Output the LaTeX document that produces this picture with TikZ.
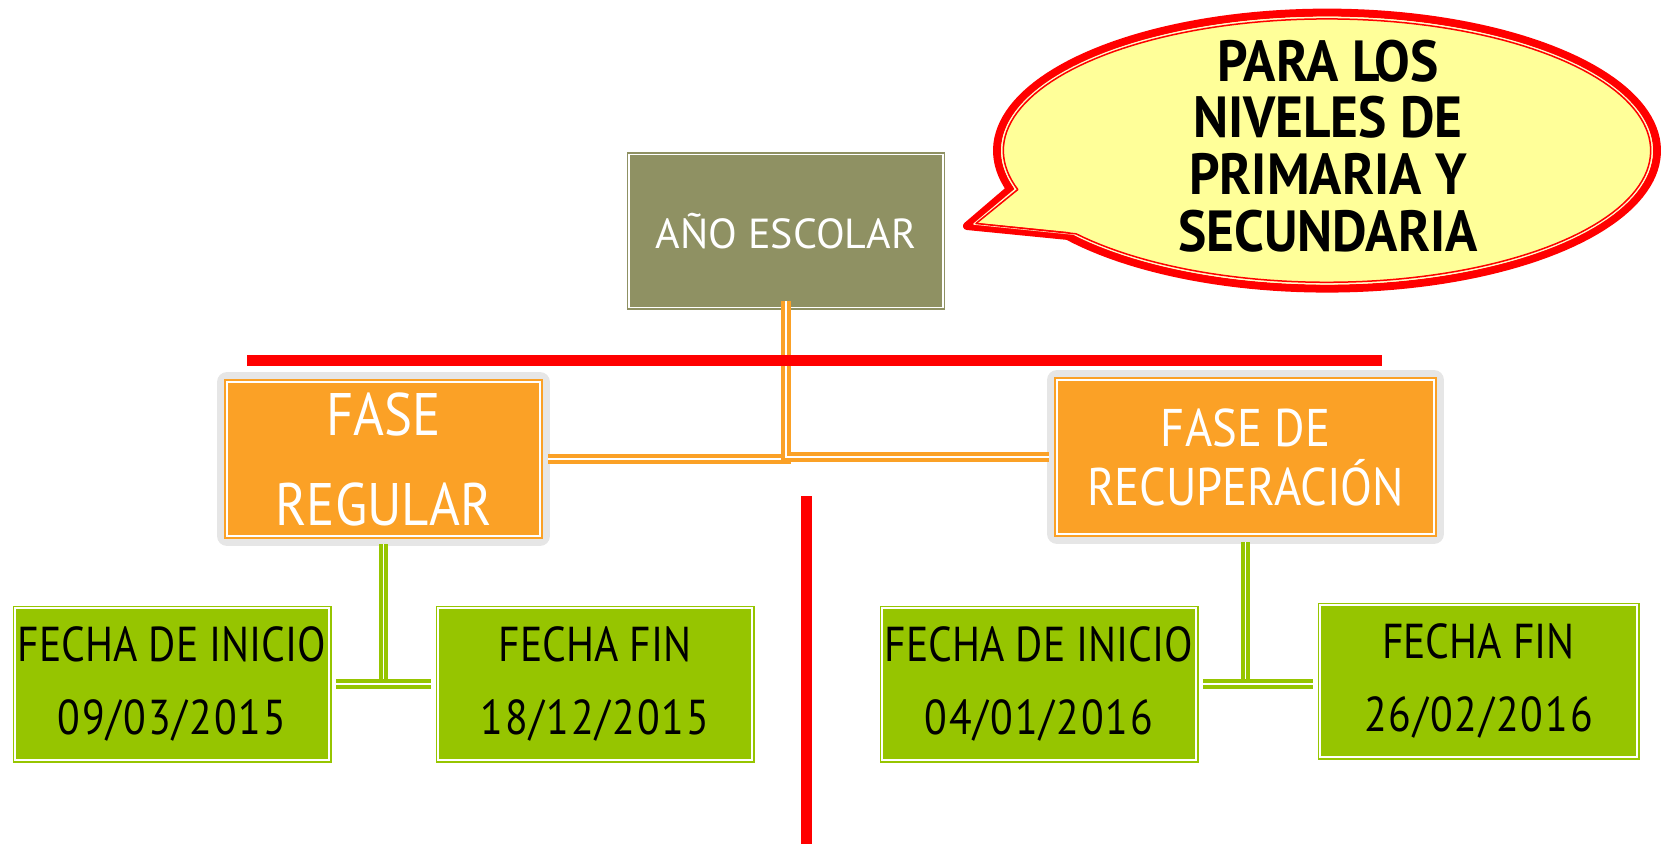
\documentclass[tikz,border=0pt]{standalone}
\usepackage{fontspec}
\newfontfamily\afont{PT Sans}
\newfontfamily\ffont[FakeStretch=0.88]{PT Sans}
\newfontfamily\gfont[FakeStretch=0.85]{PT Sans}
\newfontfamily\dfont[FakeStretch=0.85, LetterSpace=4]{PT Sans}
\newfontfamily\bfont[FakeStretch=0.92]{PT Sans}
\definecolor{olivebox}{RGB}{143,145,99}
\definecolor{orangebox}{RGB}{251,161,38}
\definecolor{greenbox}{RGB}{150,197,0}
\definecolor{grayframe}{RGB}{230,230,230}
\definecolor{bubblefill}{RGB}{255,255,153}
\definecolor{paleline}{RGB}{255,248,205}
\tikzset{
  anobox/.style={fill=olivebox, draw=olivebox, double=white, line width=1.5pt, double distance=1.5pt,
    minimum width=314pt, minimum height=153pt, inner sep=0pt, text=white, align=center,
    font={\afont\fontsize{42}{48}\selectfont}},
  fasebox/.style={fill=orangebox, draw=orangebox, double=white, line width=2pt, double distance=1.5pt,
    preaction={draw=grayframe, line width=20pt, line join=round},
    minimum height=154pt, inner sep=0pt, text=white, align=center},
  datebox/.style={fill=greenbox, draw=greenbox, double=white, line width=1.5pt, double distance=2pt,
    minimum width=314pt, minimum height=152pt, inner sep=0pt, text=black, align=center,
    font={\gfont\fontsize{49}{73}\selectfont}},
  oconn/.style={draw=orangebox, double=white, line width=4pt, double distance=1.5pt},
  gconn/.style={draw=greenbox, double=white, line width=4pt, double distance=1.5pt},
  redline/.style={draw=red, line width=11pt},
}
\begin{document}
\begin{tikzpicture}[x=1pt,y=-1pt]
\useasboundingbox (0,0) rectangle (1663,844);
% speech bubble
\fill[bubblefill, draw=red, line width=8pt, line join=round]
  plot[domain=141.8:-196.2, samples=160] ({1327+330*cos(\x)},{150.6+138*sin(\x)}) -- (967,226) -- cycle;
\draw[paleline, line width=1.5pt, line join=round]
  plot[domain=141.2:-196.8, samples=160] ({1327+325.2*cos(\x)},{150.6+133.2*sin(\x)}) -- (974,224) -- cycle;
\draw[red, line width=1.5pt, line join=round]
  plot[domain=140.8:-197.2, samples=160] ({1327+323.7*cos(\x)},{150.6+131.7*sin(\x)}) -- (976,223.5) -- cycle;
\node[align=center, inner sep=0pt, font={\bfont\bfseries\fontsize{58}{56.7}\selectfont}] (nota) at (1328,146)
  {PARA LOS\\NIVELES DE\\PRIMARIA Y\\SECUNDARIA};
% main boxes
\node[anobox] (ano) at (786,231) {AÑO ESCOLAR};
\node[fasebox, minimum width=313pt, font={\ffont\fontsize{60}{90}\selectfont}] (fr) at (383.5,459) {FASE\\REGULAR};
\node[fasebox, minimum width=377pt, font={\ffont\fontsize{53}{59}\selectfont}] (rec) at (1245.5,457) {FASE DE\\RECUPERACIÓN};
\node[datebox] (g1) at (172,684) {FECHA DE INICIO\\{\dfont 09/03/2015}};
\node[datebox] (g2) at (595,684) {FECHA FIN\\{\dfont 18/12/2015}};
\node[datebox] (g3) at (1039,684) {FECHA DE INICIO\\{\dfont 04/01/2016}};
\node[datebox, minimum width=317pt] (g4) at (1478.5,681) {FECHA FIN\\{\dfont 26/02/2016}};
% connectors
\coordinate (top) at ([yshift=7pt]ano.south);
\draw[oconn, shorten >=7pt] (top) |- (fr.east);
\draw[oconn, shorten >=7pt] (top) |- (rec.west);
\draw[gconn, shorten <=7pt] (fr.south) -- (fr.south |- g1.east);
\draw[gconn, shorten <=6pt, shorten >=6pt] (g1.east) -- (g2.west);
\draw[gconn, shorten <=7pt] (rec.south) -- (rec.south |- g3.east);
\draw[gconn, shorten <=6pt, shorten >=6pt] (g3.east) -- (g4.west |- g3.east);
% red lines
\draw[redline] (247,360) -- (1382,360);
\draw[redline] (806,496) -- (806,844);
\end{tikzpicture}
\end{document}
